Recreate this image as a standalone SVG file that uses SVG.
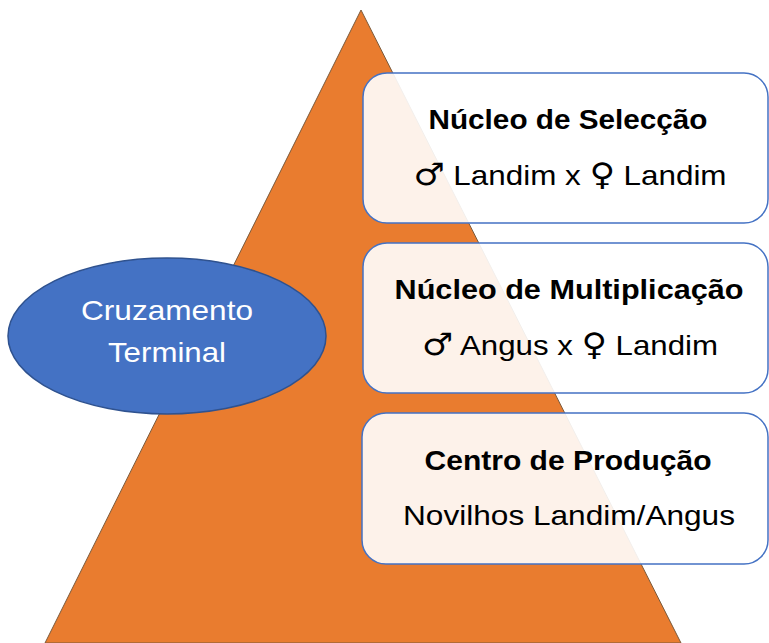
<svg xmlns="http://www.w3.org/2000/svg" width="769" height="643" viewBox="0 0 769 643">
<style>
.box{fill:#ffffff;fill-opacity:0.9;stroke:#4472C4;stroke-width:1.5}
.t{font-family:"Liberation Sans","DejaVu Sans",sans-serif;font-size:28px;fill:#000;text-anchor:middle}
.b{font-weight:bold}
.w{fill:#fff}
.s{font-family:"Noto Sans","DejaVu Sans",sans-serif;font-size:31px}
</style>
<rect width="769" height="643" fill="#fff"/>
<g id="pyramid">
<polygon points="361,10 45,643 681,643" fill="#E97C2F" stroke="#7a5a3c" stroke-width="1"/>
</g>
<g id="ellipse">
<ellipse cx="167" cy="336" rx="159" ry="78" fill="#4472C4" stroke="#2F528F" stroke-width="1.5"/>
<text class="t w" x="167" y="320" textLength="172" lengthAdjust="spacingAndGlyphs">Cruzamento</text>
<text class="t w" x="167" y="362" textLength="118" lengthAdjust="spacingAndGlyphs">Terminal</text>
</g>
<g id="box1">
<rect class="box" x="363" y="73" width="405" height="150" rx="24"/>
<text class="t b" x="568" y="129" textLength="279" lengthAdjust="spacingAndGlyphs">Núcleo de Selecção</text>
<text class="t" x="570" y="185" textLength="313" lengthAdjust="spacingAndGlyphs"><tspan class="s">♂</tspan> Landim x <tspan class="s">♀</tspan> Landim</text>
</g>
<g id="box2">
<rect class="box" x="363" y="243" width="405" height="150" rx="24"/>
<text class="t b" x="569" y="299" textLength="349" lengthAdjust="spacingAndGlyphs">Núcleo de Multiplicação</text>
<text class="t" x="570" y="355" textLength="296" lengthAdjust="spacingAndGlyphs"><tspan class="s">♂</tspan> Angus x <tspan class="s">♀</tspan> Landim</text>
</g>
<g id="box3">
<rect class="box" x="362" y="413" width="406" height="151" rx="24"/>
<text class="t b" x="568" y="470" textLength="287" lengthAdjust="spacingAndGlyphs">Centro de Produção</text>
<text class="t" x="569" y="525" textLength="332" lengthAdjust="spacingAndGlyphs">Novilhos Landim/Angus</text>
</g>
<g id="connectors"></g>
</svg>
